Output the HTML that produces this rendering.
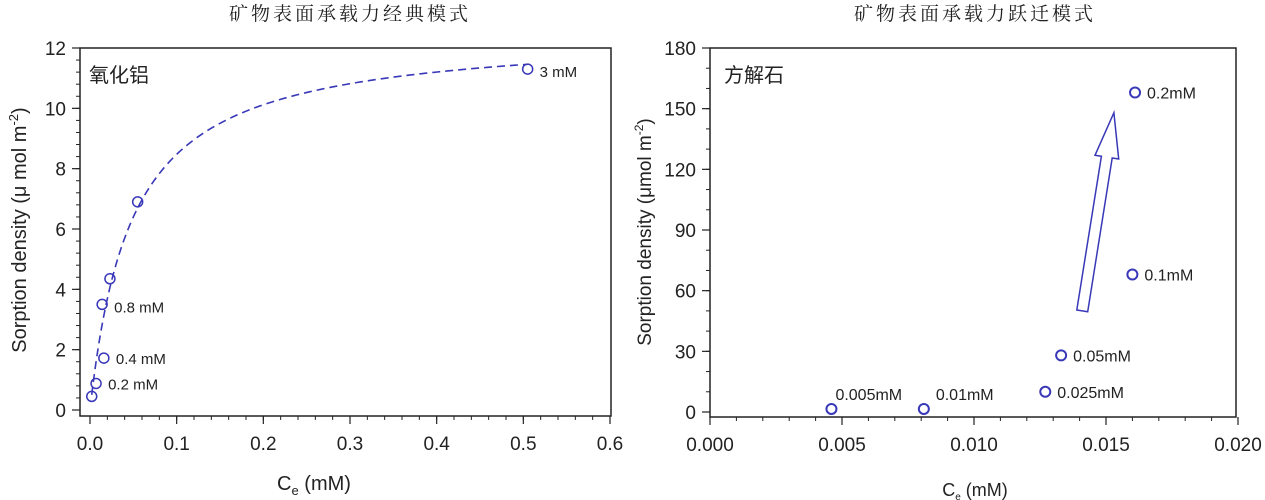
<!DOCTYPE html>
<html><head><meta charset="utf-8">
<style>
html,body{margin:0;padding:0;background:#fff;width:1265px;height:500px;overflow:hidden}
svg text{font-family:"Liberation Sans","Noto Sans CJK SC",sans-serif;fill:#222}
.t{font-family:"Liberation Serif","Noto Serif CJK SC",serif !important}
</style></head>
<body>
<svg id="chart" width="1265" height="500" xmlns="http://www.w3.org/2000/svg"></svg>
<script>
// Left chart data
const leftX = [0.002, 0.007, 0.016, 0.014, 0.023, 0.055, 0.505];
const leftY = [0.45, 0.88, 1.72, 3.5, 4.35, 6.9, 11.3];
const leftLabels = ["", "0.2 mM", "0.4 mM", "0.8 mM", "", "", "3 mM"];
const leftXTicks = [0, 0.1, 0.2, 0.3, 0.4, 0.5, 0.6];
const leftXTickLabels = ["0.0","0.1","0.2","0.3","0.4","0.5","0.6"];
const leftYTicks = [0, 2, 4, 6, 8, 10, 12];
const fitQmax = 12.55, fitK = 20.8;
// Right chart data
const rightX = [0.0046, 0.0081, 0.0127, 0.0133, 0.0160, 0.0161];
const rightY = [1.5, 1.5, 10, 28, 68, 158];
const rightLabels = ["0.005mM","0.01mM","0.025mM","0.05mM","0.1mM","0.2mM"];
const rightXTicks = [0, 0.005, 0.010, 0.015, 0.020];
const rightXTickLabels = ["0.000","0.005","0.010","0.015","0.020"];
const rightYTicks = [0, 30, 60, 90, 120, 150, 180];
const arrowFrom = [0.0141, 50]; const arrowTo = [0.0153, 148];

const svg = document.getElementById('chart');
const NS = 'http://www.w3.org/2000/svg';
function mk(tag, attrs, parent){const e=document.createElementNS(NS,tag);for(const k in attrs)e.setAttribute(k,attrs[k]);(parent||svg).appendChild(e);return e;}
const BLUE = '#3838b8';

function axes(o){
  const g = mk('g',{});
  
  
  const sx = v => o.x0 + (v - o.xmin)/(o.xmax-o.xmin)*(o.x1-o.x0);
  const sy = v => o.y0 - (v - o.ymin)/(o.ymax-o.ymin)*(o.y0-o.y1);
  const frame = mk('rect',{x:o.fl,y:o.y1,width:o.fr-o.fl,height:o.fb-o.y1,fill:'none',stroke:'#222','stroke-width':1.5},g);
  
  
  // minor x ticks
  for(let v=o.xmin; v<=o.xmax+1e-9; v+=o.xminor){
    const x=sx(v); mk('line',{x1:x,x2:x,y1:o.fb,y2:o.fb+4,stroke:'#222','stroke-width':1},g);
  }
  o.xt.forEach((v,i)=>{
    const x=sx(v);
    mk('line',{x1:x,x2:x,y1:o.fb,y2:o.fb+8,stroke:'#222','stroke-width':1.2},g);
    const t=mk('text',{x:x,y:o.fb+34,'text-anchor':'middle','font-size':19},g);
    t.textContent=o.xtl[i];
    
    
  });
  for(let v=o.ymin; v<=o.ymax+1e-9; v+=o.yminor){
    const y=sy(v); mk('line',{x1:o.fl,x2:o.fl-4,y1:y,y2:y,stroke:'#222','stroke-width':1},g);
  }
  o.yt.forEach(v=>{
    const y=sy(v);
    mk('line',{x1:o.fl,x2:o.fl-8,y1:y,y2:y,stroke:'#222','stroke-width':1.2},g);
    const t=mk('text',{x:o.fl-14,y:y+7,'text-anchor':'end','font-size':19},g);
    t.textContent=String(v);
    
    
  });
  return {sx,sy,g};
}

// LEFT
const L = axes({name:'left-chart',x0:90,x1:610,xmin:0,xmax:0.6,y0:410,y1:48,ymin:0,ymax:12,fl:80,fr:611,fb:416,
  xt:leftXTicks,xtl:leftXTickLabels,yt:leftYTicks,xminor:0.02,yminor:0.4});
let d='';
for(let i=0;i<=200;i++){
  const c = 0.002 + (0.505-0.002)*Math.pow(i/200,2);
  const q = fitQmax*fitK*c/(1+fitK*c);
  d += (i?'L':'M')+L.sx(c).toFixed(2)+','+L.sy(q).toFixed(2);
}
const fit = mk('path',{d:d,fill:'none',stroke:BLUE,'stroke-width':1.6,'stroke-dasharray':'8 5'},L.g);


leftX.forEach((v,i)=>{
  const c=mk('circle',{cx:L.sx(v),cy:L.sy(leftY[i]),r:5,fill:'none',stroke:BLUE,'stroke-width':1.5},L.g);
  
  
  if(leftLabels[i]){
    const t=mk('text',{x:L.sx(v)+12,y:L.sy(leftY[i])+(i==6?8:(i==3?8:6)),'font-size':15},L.g);
    t.textContent=leftLabels[i];
    
    
  }
});

// RIGHT
const R = axes({name:'right-chart',x0:710,x1:1238,xmin:0,xmax:0.02,y0:412,y1:48,ymin:0,ymax:180,fl:710,fr:1236,fb:417,
  xt:rightXTicks,xtl:rightXTickLabels,yt:rightYTicks,xminor:0.001,yminor:10});
rightX.forEach((v,i)=>{
  const c=mk('circle',{cx:R.sx(v),cy:R.sy(rightY[i]),r:5,fill:'none',stroke:BLUE,'stroke-width':2},R.g);
  
  
  const dy = i<2 ? -9 : 6;
  const dx = i==0 ? 4 : 12;
  const t=mk('text',{x:R.sx(v)+dx,y:R.sy(rightY[i])+dy,'font-size':16},R.g);
  t.textContent=rightLabels[i];
  
  
});
// hollow arrow
(function(){
  const ax=R.sx(arrowFrom[0]), ay=R.sy(arrowFrom[1]), bx=R.sx(arrowTo[0]), by=R.sy(arrowTo[1]);
  const L2=Math.hypot(bx-ax,by-ay), ux=(bx-ax)/L2, uy=(by-ay)/L2, px=-uy, py=ux;
  const sw=5.5, hw=12, hl=45;
  const hx=bx-ux*hl, hy=by-uy*hl;
  const pts=[[ax+px*sw,ay+py*sw],[hx+px*sw,hy+py*sw],[hx+px*hw,hy+py*hw],[bx,by],[hx-px*hw,hy-py*hw],[hx-px*sw,hy-py*sw],[ax-px*sw,ay-py*sw]];
  const a=mk('polygon',{points:pts.map(p=>p[0].toFixed(1)+','+p[1].toFixed(1)).join(' '),fill:'#fff',stroke:BLUE,'stroke-width':1.5},R.g);
  
  
})();

function txt(x,y,s,attrs,name){const t=mk('text',Object.assign({x:x,y:y},attrs));t.textContent=s;return t;}
const t1=txt(350,20,'矿物表面承载力经典模式',{'text-anchor':'middle','font-size':19,'letter-spacing':'3',class:'t'},'left-chart-title');
const t2=txt(975,20,'矿物表面承载力跃迁模式',{'text-anchor':'middle','font-size':19,'letter-spacing':'3',class:'t'},'right-chart-title');
txt(89,82,'氧化铝',{'font-size':20},'mineral-label-alumina');
txt(724,82,'方解石',{'font-size':20},'mineral-label-calcite');
// x titles
const xt1=txt(314,490,'',{'font-size':20,'text-anchor':'middle'},'x-axis-title');
xt1.innerHTML='C<tspan font-size="13" dy="5">e</tspan><tspan dy="-5"> (mM)</tspan>';
const xt2=txt(975,496,'',{'font-size':18,'text-anchor':'middle'},'x-axis-title');
xt2.innerHTML='C<tspan font-size="10" dy="4">e</tspan><tspan dy="-4"> (mM)</tspan>';
// y titles
const yt1=txt(0,0,'',{'font-size':20,'text-anchor':'middle',transform:'translate(26,230) rotate(-90)'},'y-axis-title');
yt1.innerHTML='Sorption density (μ mol m<tspan font-size="13" dy="-8">-2</tspan><tspan dy="8">)</tspan>';
const yt2=txt(0,0,'',{'font-size':19,'text-anchor':'middle',transform:'translate(651,232) rotate(-90)'},'y-axis-title');
yt2.innerHTML='Sorption density (μmol m<tspan font-size="12" dy="-8">-2</tspan><tspan dy="8">)</tspan>';
</script>
</body></html>
